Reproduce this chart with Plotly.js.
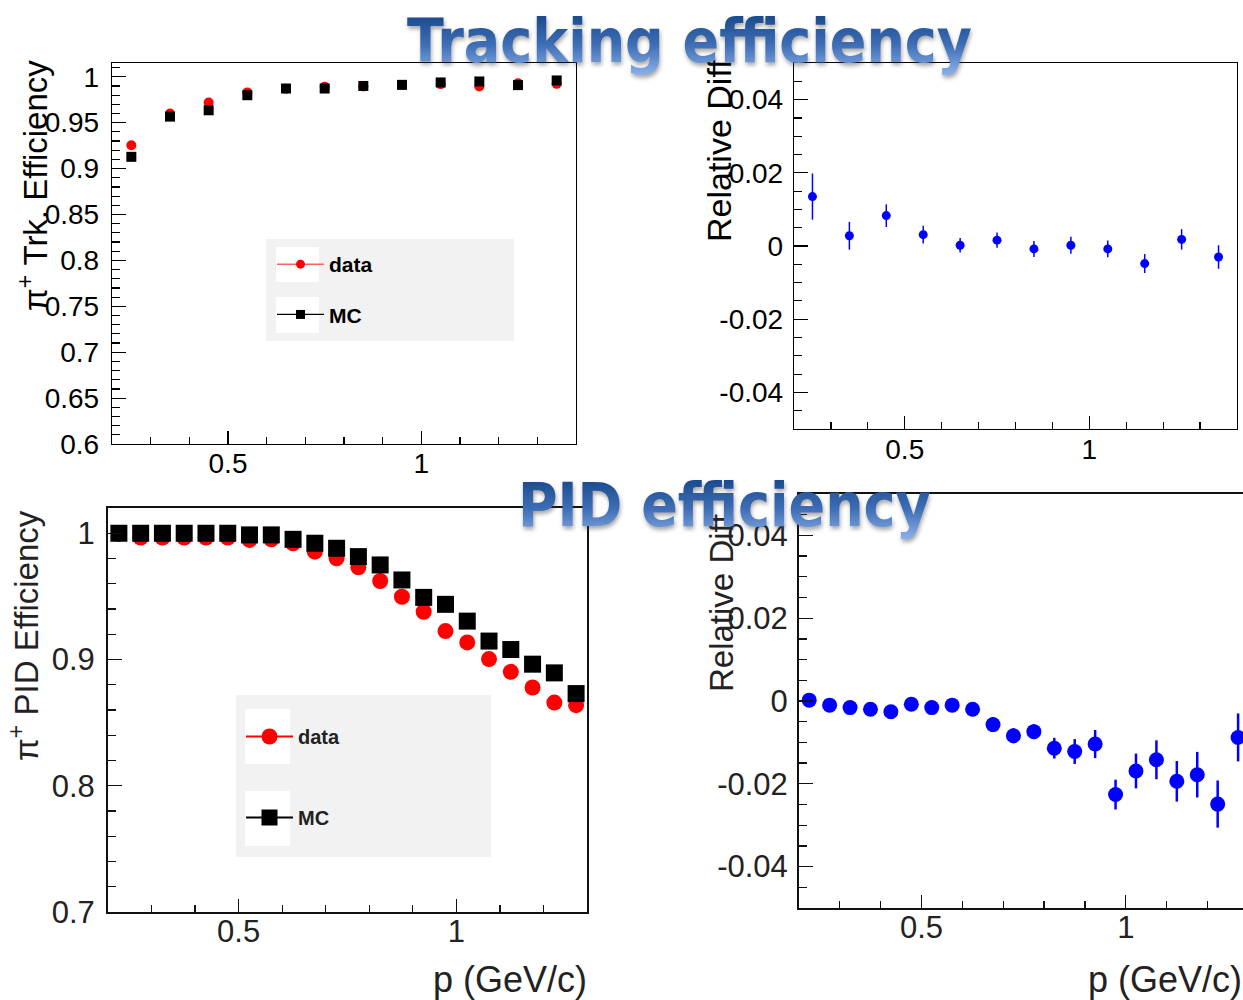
<!DOCTYPE html>
<html><head><meta charset="utf-8">
<script src="https://cdn.plot.ly/plotly-3.0.1.min.js"></script>
<style>body{margin:0;background:#fff}#c{width:1243px;height:1000px}</style>
</head><body><div id="c"></div>
<script>
// ---------- data ----------
const trkP = [0.25,0.35,0.45,0.55,0.65,0.75,0.85,0.95,1.05,1.15,1.25,1.35];
const trkData = [0.9255,0.960,0.972,0.983,0.987,0.989,0.9895,0.991,0.992,0.9894,0.993,0.9923];
const trkMC   = [0.9128,0.9566,0.9635,0.9799,0.9872,0.9872,0.990,0.9912,0.9938,0.9949,0.9909,0.996];
const trkDiff    = [0.0135,0.0028,0.0083,0.0031,0.0002,0.0016,-0.0008,0.0002,-0.0008,-0.0048,0.0018,-0.0030];
const trkDiffErr = [0.0063,0.0038,0.0031,0.0024,0.0020,0.0021,0.0022,0.0023,0.0023,0.0026,0.0028,0.0032];

const pidP = [0.225,0.275,0.325,0.375,0.425,0.475,0.525,0.575,0.625,0.675,0.725,0.775,0.825,0.875,0.925,0.975,1.025,1.075,1.125,1.175,1.225,1.275];
const pidData = [0.9995,0.9966,0.9966,0.9966,0.9966,0.9966,0.9947,0.9952,0.992,0.9854,0.9802,0.973,0.9622,0.9497,0.9378,0.9225,0.9135,0.9003,0.8902,0.8778,0.8659,0.8638];
const pidMC   = [1.000,1.000,1.000,1.000,1.000,1.000,0.9987,0.9987,0.9952,0.9921,0.9881,0.9815,0.9749,0.963,0.9492,0.9437,0.9304,0.9146,0.9079,0.8963,0.8894,0.873];
const pidDiff    = [0.0002,-0.0010,-0.0016,-0.0020,-0.0026,-0.0008,-0.0016,-0.0010,-0.0020,-0.0057,-0.0084,-0.0074,-0.0114,-0.0122,-0.0104,-0.0226,-0.0169,-0.0142,-0.0194,-0.0178,-0.0249,-0.0088];
const pidDiffErr = [0.0012,0.0012,0.0012,0.0012,0.0012,0.0012,0.0012,0.0012,0.0012,0.0018,0.0018,0.0018,0.0025,0.0030,0.0034,0.0036,0.0042,0.0047,0.0049,0.0055,0.0057,0.0058];

const trkEffTicks = [0.6,0.65,0.7,0.75,0.8,0.85,0.9,0.95,1];
const trkEffLabels = ['0.6','0.65','0.7','0.75','0.8','0.85','0.9','0.95','1'];
const pidEffTicks = [0.7,0.8,0.9,1];
const pidEffLabels = ['0.7','0.8','0.9','1'];
const diffTicks = [-0.04,-0.02,0,0.02,0.04];
const diffLabels = ['-0.04','-0.02','0','0.02','0.04'];
const pTicks = [0.5,1];
const pLabels = ['0.5','1'];

// ---------- layout helpers ----------
const W = 1243, H = 1000;
const fx = px => px / W;
const fy = py => 1 - py / H;
const FONT = 'Liberation Sans, Arial, Helvetica, sans-serif';
const TFONT = 'DejaVu Sans Condensed, DejaVu Sans, sans-serif';

function xax(box, range, color, lw, fs, minorD, standoff, fcol) {
  return {
    domain: [fx(box[0]), fx(box[1])], range: range, showgrid: false, zeroline: false,
    showline: true, mirror: true, linecolor: color, linewidth: lw,
    tickmode: 'array', tickvals: pTicks, ticktext: pLabels,
    ticks: 'inside', ticklen: 13, tickwidth: 1.2, tickcolor: color,
    minor: {tickmode: 'linear', tick0: 0, dtick: minorD, ticks: 'inside', ticklen: 7, tickwidth: 1.2, tickcolor: color, showgrid: false},
    tickfont: {family: FONT, size: fs, color: fcol},
    ticklabelstandoff: standoff, fixedrange: true
  };
}
function yax(box, range, tv, tt, minorD, color, lw, fs, mirror, standoff, fcol) {
  return {
    domain: [fy(box[3]), fy(box[2])], range: range, showgrid: false, zeroline: false,
    showline: true, mirror: mirror, linecolor: color, linewidth: lw,
    tickmode: 'array', tickvals: tv, ticktext: tt,
    ticks: 'inside', ticklen: 14, tickwidth: 1.2, tickcolor: color,
    minor: {tickmode: 'linear', tick0: 0, dtick: minorD, ticks: 'inside', ticklen: 8, tickwidth: 1.2, tickcolor: color, showgrid: false},
    tickfont: {family: FONT, size: fs, color: fcol},
    ticklabelstandoff: standoff, fixedrange: true
  };
}

// plot boxes [left, right, top, bottom] in px
const boxTL = [112, 576, 63, 444];
const boxTR = [794, 1237, 63, 429];
const boxBL = [108, 587, 508, 912];
const boxBR = [799, 1243, 494, 908];

const traces = [
  // top-left
  {x: trkP, y: trkData, type: 'scatter', mode: 'markers', xaxis: 'x', yaxis: 'y', showlegend: false,
   marker: {symbol: 'circle', size: 10, color: '#ff0000'}},
  {x: trkP, y: trkMC, type: 'scatter', mode: 'markers', xaxis: 'x', yaxis: 'y', showlegend: false,
   marker: {symbol: 'square', size: 10, color: '#000'}},
  {x: [null], y: [null], type: 'scatter', mode: 'lines+markers', xaxis: 'x', yaxis: 'y', name: '<b>data</b>',
   legend: 'legend', legendgroup: 'a1', line: {color: '#ff6060', width: 1.5}, marker: {symbol: 'circle', size: 9, color: '#ff0000'}},
  {x: [null], y: [null], type: 'scatter', mode: 'lines+markers', xaxis: 'x', yaxis: 'y', name: '<b>MC</b>',
   legend: 'legend', legendgroup: 'a2', line: {color: '#000', width: 1.2}, marker: {symbol: 'square', size: 9, color: '#000'}},
  // top-right
  {x: trkP, y: trkDiff, type: 'scatter', mode: 'markers', xaxis: 'x2', yaxis: 'y2', showlegend: false,
   error_y: {type: 'data', array: trkDiffErr, color: '#0000ff', thickness: 1.5, width: 0},
   marker: {symbol: 'circle', size: 9, color: '#0000ff'}},
  // bottom-left
  {x: pidP, y: pidData, type: 'scatter', mode: 'markers', xaxis: 'x3', yaxis: 'y3', showlegend: false,
   marker: {symbol: 'circle', size: 16, color: '#ff0000'}},
  {x: pidP, y: pidMC, type: 'scatter', mode: 'markers', xaxis: 'x3', yaxis: 'y3', showlegend: false,
   marker: {symbol: 'square', size: 17, color: '#000'}},
  {x: [null], y: [null], type: 'scatter', mode: 'lines+markers', xaxis: 'x3', yaxis: 'y3', name: '<b>data</b>',
   legend: 'legend2', legendgroup: 'b1', line: {color: '#ff0000', width: 2}, marker: {symbol: 'circle', size: 16, color: '#ff0000'}},
  {x: [null], y: [null], type: 'scatter', mode: 'lines+markers', xaxis: 'x3', yaxis: 'y3', name: '<b>MC</b>',
   legend: 'legend2', legendgroup: 'b2', line: {color: '#000', width: 2}, marker: {symbol: 'square', size: 17, color: '#000'}},
  // bottom-right
  {x: pidP, y: pidDiff, type: 'scatter', mode: 'markers', xaxis: 'x4', yaxis: 'y4', showlegend: false,
   error_y: {type: 'data', array: pidDiffErr, color: '#0000ff', thickness: 2.5, width: 0},
   marker: {symbol: 'circle', size: 15, color: '#0000ff'}}
];

const annFont = (s, c) => ({family: FONT, size: s, color: c});
const layout = {
  width: W, height: H, margin: {l: 0, r: 0, t: 0, b: 0},
  paper_bgcolor: '#fff', plot_bgcolor: 'rgba(0,0,0,0)',
  xaxis: xax(boxTL, [0.2, 1.4], '#000', 1.2, 28, 0.1, -6, '#000'),
  yaxis: yax(boxTL, [0.6, 1.015], trkEffTicks, trkEffLabels, 0.01, '#000', 1.2, 28, true, 6, '#000'),
  xaxis2: Object.assign(xax(boxTR, [0.2, 1.4], '#000', 1.2, 28, 0.1, -5, '#000'), {anchor: 'y2'}),
  yaxis2: Object.assign(yax(boxTR, [-0.05, 0.05], diffTicks, diffLabels, 0.005, '#000', 1.2, 28, true, 4, '#000'), {anchor: 'x2'}),
  xaxis3: Object.assign(xax(boxBL, [0.2, 1.3], '#111', 2, 31, 0.1, -9, '#222'), {anchor: 'y3'}),
  yaxis3: Object.assign(yax(boxBL, [0.7, 1.02], pidEffTicks, pidEffLabels, 0.02, '#111', 2, 31, true, 5, '#222'), {anchor: 'x3'}),
  xaxis4: Object.assign(xax(boxBR, [0.2, 1.287], '#111', 2, 31, 0.1, -9, '#222'), {anchor: 'y4'}),
  yaxis4: Object.assign(yax(boxBR, [-0.05, 0.05], diffTicks, diffLabels, 0.005, '#111', 2, 31, false, 3, '#222'), {anchor: 'x4'}),
  legend: {x: fx(272), y: fy(244), xanchor: 'left', yanchor: 'top', bgcolor: 'rgba(0,0,0,0)',
    font: {family: FONT, size: 21, color: '#000'}, traceorder: 'grouped', tracegroupgap: 20, itemwidth: 47},
  legend2: {x: fx(241), y: fy(717), xanchor: 'left', yanchor: 'top', bgcolor: 'rgba(0,0,0,0)',
    font: {family: FONT, size: 20, color: '#222'}, traceorder: 'grouped', tracegroupgap: 52, itemwidth: 47},
  shapes: [
    {type: 'rect', xref: 'paper', yref: 'paper', x0: fx(266), x1: fx(514), y0: fy(341), y1: fy(239), fillcolor: '#f2f2f2', line: {width: 0}, layer: 'below'},
    {type: 'rect', xref: 'paper', yref: 'paper', x0: fx(276), x1: fx(319), y0: fy(282), y1: fy(247), fillcolor: '#fff', line: {width: 0}, layer: 'below'},
    {type: 'rect', xref: 'paper', yref: 'paper', x0: fx(276), x1: fx(319), y0: fy(333), y1: fy(297), fillcolor: '#fff', line: {width: 0}, layer: 'below'},
    {type: 'rect', xref: 'paper', yref: 'paper', x0: fx(236), x1: fx(491), y0: fy(857), y1: fy(695), fillcolor: '#f2f2f2', line: {width: 0}, layer: 'below'},
    {type: 'rect', xref: 'paper', yref: 'paper', x0: fx(245), x1: fx(290), y0: fy(764), y1: fy(709), fillcolor: '#fff', line: {width: 0}, layer: 'below'},
    {type: 'rect', xref: 'paper', yref: 'paper', x0: fx(245), x1: fx(290), y0: fy(846), y1: fy(791), fillcolor: '#fff', line: {width: 0}, layer: 'below'}
  ],
  annotations: [
    {text: 'π<sup>+</sup> Trk. Efficiency', xref: 'paper', yref: 'paper', x: fx(33), y: fy(186), textangle: -90,
     showarrow: false, xanchor: 'center', yanchor: 'middle', font: annFont(33, '#000')},
    {text: 'Relative Diff', xref: 'paper', yref: 'paper', x: fx(719), y: fy(151), textangle: -90,
     showarrow: false, xanchor: 'center', yanchor: 'middle', font: annFont(34, '#000')},
    {text: 'π<sup>+</sup> PID Efficiency', xref: 'paper', yref: 'paper', x: fx(24), y: fy(636), textangle: -90,
     showarrow: false, xanchor: 'center', yanchor: 'middle', font: annFont(33, '#222')},
    {text: 'Relative Diff', xref: 'paper', yref: 'paper', x: fx(721), y: fy(603), textangle: -90,
     showarrow: false, xanchor: 'center', yanchor: 'middle', font: annFont(33, '#222')},
    {text: 'p (GeV/c)', xref: 'paper', yref: 'paper', x: fx(589), y: fy(979),
     showarrow: false, xanchor: 'right', yanchor: 'middle', font: annFont(36, '#222')},
    {text: 'p (GeV/c)', xref: 'paper', yref: 'paper', x: fx(1244), y: fy(979),
     showarrow: false, xanchor: 'right', yanchor: 'middle', font: annFont(36, '#222')},
    {text: '<b>Tracking efficiency</b>', xref: 'paper', yref: 'paper', x: fx(689), y: fy(41),
     showarrow: false, xanchor: 'center', yanchor: 'middle', font: {family: TFONT, size: 60, color: '#3a68b0'}},
    {text: '<b>PID efficiency</b>', xref: 'paper', yref: 'paper', x: fx(724), y: fy(505),
     showarrow: false, xanchor: 'center', yanchor: 'middle', font: {family: TFONT, size: 60, color: '#3a68b0'}}
  ]
};

Plotly.newPlot('c', traces, layout, {staticPlot: true, displayModeBar: false}).then(gd => {
  const ns = 'http://www.w3.org/2000/svg';
  const svg = gd.querySelector('svg.main-svg');
  let defs = svg.querySelector('defs');
  if (!defs) { defs = document.createElementNS(ns, 'defs'); svg.insertBefore(defs, svg.firstChild); }
  const lg = document.createElementNS(ns, 'linearGradient');
  lg.setAttribute('id', 'titleGrad');
  lg.setAttribute('x1', '0'); lg.setAttribute('y1', '0'); lg.setAttribute('x2', '0'); lg.setAttribute('y2', '1');
  [['0', '#0f3f80'], ['0.55', '#3d6db5'], ['1', '#8db3ea']].forEach(s => {
    const st = document.createElementNS(ns, 'stop');
    st.setAttribute('offset', s[0]); st.setAttribute('stop-color', s[1]);
    lg.appendChild(st);
  });
  defs.appendChild(lg);
  gd.querySelectorAll('.annotation-text').forEach(t => {
    if (t.textContent.indexOf('efficiency') >= 0) {
      t.style.fill = 'url(#titleGrad)';
      t.style.filter = 'drop-shadow(1px 3px 2px rgba(60,60,60,0.45))';
    }
  });
});
</script>
</body></html>
